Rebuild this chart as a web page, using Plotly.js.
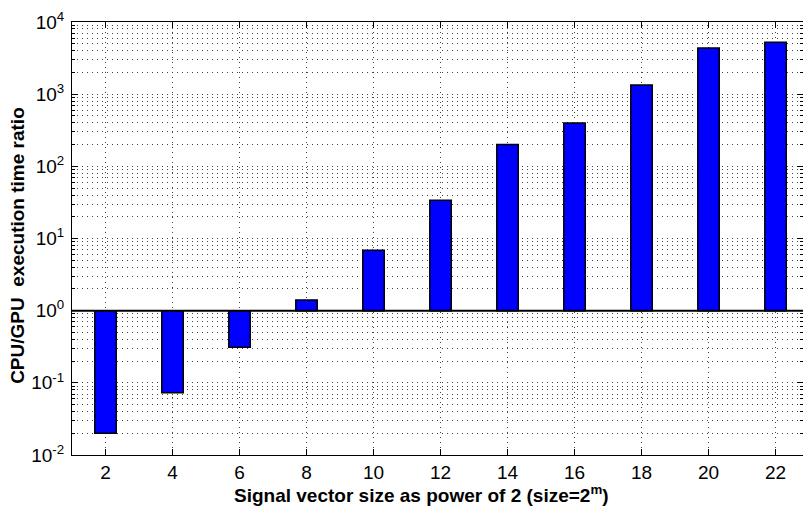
<!DOCTYPE html>
<html>
<head>
<meta charset="utf-8">
<script src="https://cdn.plot.ly/plotly-3.0.1.min.js"></script>
<style>html,body{margin:0;padding:0;background:#fff;}#chart{width:803px;height:507px;}</style>
</head>
<body>
<div id="chart"></div>
<script>
// Data
var sizePower = [2, 4, 6, 8, 10, 12, 14, 16, 18, 20, 22];
var timeRatio = [0.020, 0.073, 0.31, 1.41, 6.9, 34, 200, 400, 1340, 4350, 5250];
var baseValue = 1;
var xTickVals = [2, 4, 6, 8, 10, 12, 14, 16, 18, 20, 22];
var decades = [-2, -1, 0, 1, 2, 3, 4];

var majorVals = [], majorText = [], minorVals = [];
decades.forEach(function (d) {
  majorVals.push(Math.pow(10, d));
  majorText.push('10<sup>' + d + '</sup>');
  if (d < 4) {
    for (var k = 2; k <= 9; k++) minorVals.push(k * Math.pow(10, d));
  }
});

var trace = {
  type: 'bar',
  x: sizePower,
  y: timeRatio.map(function (v) { return v - baseValue; }),
  base: baseValue,
  width: 0.64,
  marker: { color: '#0000ff', line: { color: '#000000', width: 1.5 } },
  hoverinfo: 'skip'
};
var minorHolder = { type: 'scatter', x: [], y: [], yaxis: 'y2', hoverinfo: 'skip' };

var gridDash = '1px,4px';
var gridColor = '#444';
var layout = {
  width: 803, height: 507,
  margin: { l: 72, r: 0, t: 22, b: 52 },
  paper_bgcolor: '#ffffff', plot_bgcolor: '#ffffff',
  font: { family: 'Liberation Sans, Arial, sans-serif', color: '#000', size: 19 },
  showlegend: false,
  xaxis: {
    range: [1, 22.82],
    tickvals: xTickVals,
    ticks: 'inside', ticklen: 6, tickcolor: '#000',
    showline: true, linecolor: '#000', linewidth: 1, mirror: 'ticks',
    showgrid: true, gridcolor: gridColor, griddash: gridDash, gridwidth: 1,
    zeroline: false,
    tickfont: { size: 19 }
  },
  yaxis: {
    type: 'log',
    range: [-2, 4],
    tickvals: majorVals, ticktext: majorText,
    ticks: 'inside', ticklen: 6, tickcolor: '#000',
    ticklabelstandoff: 3,
    showline: true, linecolor: '#000', linewidth: 1, mirror: 'ticks',
    showgrid: true, gridcolor: gridColor, griddash: gridDash, gridwidth: 1,
    tickfont: { size: 19 }
  },
  yaxis2: {
    type: 'log',
    range: [-2, 4],
    overlaying: 'y', side: 'left',
    tickvals: minorVals, showticklabels: false,
    ticks: 'inside', ticklen: 3, tickcolor: '#000',
    showline: false, mirror: 'ticks',
    showgrid: true, gridcolor: gridColor, griddash: gridDash, gridwidth: 1
  },
  shapes: [{
    type: 'line', xref: 'paper', yref: 'y', x0: 0, x1: 1, y0: baseValue, y1: baseValue,
    line: { color: '#000', width: 2 }, layer: 'above'
  }],
  annotations: [
    {
      text: '<b>Signal vector size as power of 2 (size=2<sup>m</sup>)</b>',
      xref: 'paper', yref: 'paper', x: 0.478, y: 0, yshift: -39,
      xanchor: 'center', yanchor: 'middle', showarrow: false,
      font: { size: 19, color: '#000' }
    },
    {
      text: '<b>CPU/GPU  execution time ratio</b>',
      xref: 'paper', yref: 'paper', x: 0, xshift: -54, y: 0.483,
      xanchor: 'center', yanchor: 'middle', textangle: -90, showarrow: false,
      font: { size: 19, color: '#000' }
    }
  ]
};

Plotly.newPlot('chart', [trace, minorHolder], layout, { staticPlot: true, displayModeBar: false });
</script>
</body>
</html>
